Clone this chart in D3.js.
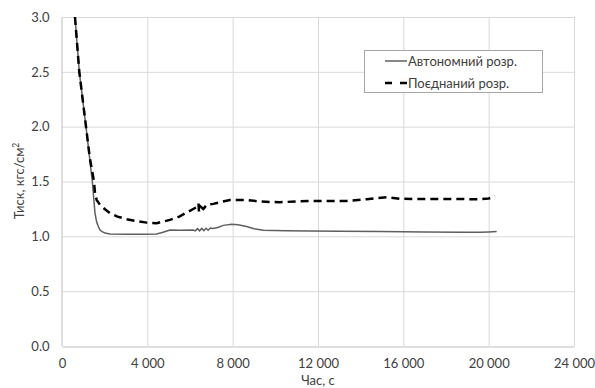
<!DOCTYPE html>
<html>
<head>
<meta charset="utf-8">
<script src="https://cdn.jsdelivr.net/npm/d3@7"></script>
<style>
  body { margin: 0; background: #fff; }
  svg { display: block; font-family: Lato, "Open Sans", sans-serif; }
</style>
</head>
<body>
<svg width="595" height="388"></svg>
<script>
// series (time in s, pressure in kgf/cm2)
var autoTime = [609, 811, 1125, 1422, 1547, 1625, 1702, 1781, 1900, 2016, 2250, 3000, 3800, 4439, 4700, 5062, 5500, 6155,
  6250, 6350, 6450, 6550, 6650, 6750, 6850, 6950, 7080, 7300, 7562, 7955, 8250, 8656, 9000, 9437, 10500, 11625, 13000,
  14906, 17000, 18800, 19200, 19594, 20000, 20375];
var autoPress = [3.0, 2.5, 2.0, 1.5, 1.21, 1.13, 1.09, 1.058, 1.04, 1.03, 1.022, 1.02, 1.02, 1.022, 1.035, 1.058, 1.055, 1.058,
  1.05, 1.07, 1.05, 1.072, 1.052, 1.074, 1.056, 1.076, 1.072, 1.08, 1.1, 1.11, 1.105, 1.089, 1.07, 1.056, 1.052, 1.049, 1.047,
  1.043, 1.04, 1.038, 1.037, 1.037, 1.04, 1.043];

var combTime = [609, 811, 1125, 1300, 1500, 1547, 1625, 1781, 2000, 2250, 2600, 3031, 3500, 3970, 4439, 5062, 5500, 5844, 6312,
  6400, 6420, 6500, 6625, 6800, 7094, 7500, 7875, 8656, 9281, 10219, 11000, 11781, 13344, 14281, 15219, 15844, 17500,
  19594, 20000, 20300];
var combPress = [3.0, 2.5, 2.0, 1.72, 1.5, 1.393, 1.332, 1.287, 1.25, 1.211, 1.18, 1.156, 1.138, 1.125, 1.12, 1.15, 1.18, 1.217, 1.266,
  1.3, 1.224, 1.27, 1.25, 1.29, 1.296, 1.315, 1.332, 1.332, 1.317, 1.311, 1.318, 1.323, 1.323, 1.339, 1.357, 1.342, 1.34,
  1.339, 1.345, 1.365];

var xTicks = [0, 4000, 8000, 12000, 16000, 20000, 24000];
var yTicks = [0, 0.5, 1.0, 1.5, 2.0, 2.5, 3.0];
var seriesNames = ["Автономний розр.", "Поєднаний розр."];

var svg = d3.select("svg");
var plotL = 62, plotR = 574, plotT = 17, plotB = 346;
var textCol = "#404040";

var x = d3.scaleLinear().domain([0, 24000]).range([plotL, plotR]);
var y = d3.scaleLinear().domain([0, 3]).range([plotB, plotT]);

// gridlines
svg.append("g").selectAll("line").data(yTicks.slice(1)).enter().append("line")
  .attr("x1", plotL).attr("x2", plotR)
  .attr("y1", d => y(d) + 0.5).attr("y2", d => y(d) + 0.5)
  .attr("stroke", "#d9d9d9");
svg.append("g").selectAll("line").data(xTicks.slice(1)).enter().append("line")
  .attr("x1", d => x(d) + 0.5).attr("x2", d => x(d) + 0.5)
  .attr("y1", plotT).attr("y2", plotB)
  .attr("stroke", "#d9d9d9");

// axes
var xAxis = d3.axisBottom(x).tickValues(xTicks).tickSize(0).tickPadding(12)
  .tickFormat(d => d3.format(",")(d).replace(",", " "));
var gx = svg.append("g").attr("transform", "translate(0," + (plotB + 0.5) + ")").call(xAxis);
var yAxis = d3.axisLeft(y).tickValues(yTicks).tickSize(0).tickPadding(12).tickFormat(d3.format(".1f"));
var gy = svg.append("g").attr("transform", "translate(" + (plotL - 0.5) + ",0)").call(yAxis);
[gx, gy].forEach(g => {
  g.select(".domain").attr("stroke", "#bfbfbf");
  g.selectAll("text").attr("fill", textCol).style("font-size", "13px").style("font-family", "Lato, sans-serif");
});

// clip to plot area
svg.append("clipPath").attr("id", "plot").append("rect")
  .attr("x", plotL).attr("y", plotT).attr("width", plotR - plotL).attr("height", plotB - plotT);

var line = d3.line().x(d => x(d[0])).y(d => y(d[1]));

svg.append("path")
  .datum(autoTime.map((t, i) => [t, autoPress[i]]))
  .attr("clip-path", "url(#plot)")
  .attr("d", line)
  .attr("fill", "none")
  .attr("stroke", "#5f5f5f")
  .attr("stroke-width", 1.5);

svg.append("path")
  .datum(combTime.map((t, i) => [t, combPress[i]]))
  .attr("clip-path", "url(#plot)")
  .attr("d", line)
  .attr("fill", "none")
  .attr("stroke", "#000")
  .attr("stroke-width", 2.5)
  .attr("stroke-dasharray", "8,5");

// axis titles
svg.append("text")
  .attr("x", (plotL + plotR) / 2).attr("y", 385)
  .attr("text-anchor", "middle")
  .attr("fill", textCol).style("font-size", "13px")
  .text("Час, с");

var yt = svg.append("text")
  .attr("transform", "translate(24," + 181 + ") rotate(-90)")
  .attr("text-anchor", "middle")
  .attr("fill", textCol).style("font-size", "13px");
yt.append("tspan").text("Тиск, кгс/см");
yt.append("tspan").attr("dy", -5).style("font-size", "8.5px").text("2");

// legend
var lg = svg.append("g");
lg.append("rect").attr("x", 364.5).attr("y", 50.5).attr("width", 178).attr("height", 42)
  .attr("fill", "#fff").attr("stroke", "#a6a6a6");
var styles = [
  { stroke: "#5f5f5f", width: 1.5, dash: null },
  { stroke: "#000", width: 2.5, dash: "7,8" }
];
seriesNames.forEach((name, i) => {
  var cy = 61 + i * 22;
  lg.append("line").attr("x1", 385).attr("x2", 407).attr("y1", cy).attr("y2", cy)
    .attr("stroke", styles[i].stroke).attr("stroke-width", styles[i].width)
    .attr("stroke-dasharray", styles[i].dash);
  lg.append("text").attr("x", 408).attr("y", cy + 4.5)
    .attr("fill", textCol).style("font-size", "13px").text(name);
});
</script>
</body>
</html>
